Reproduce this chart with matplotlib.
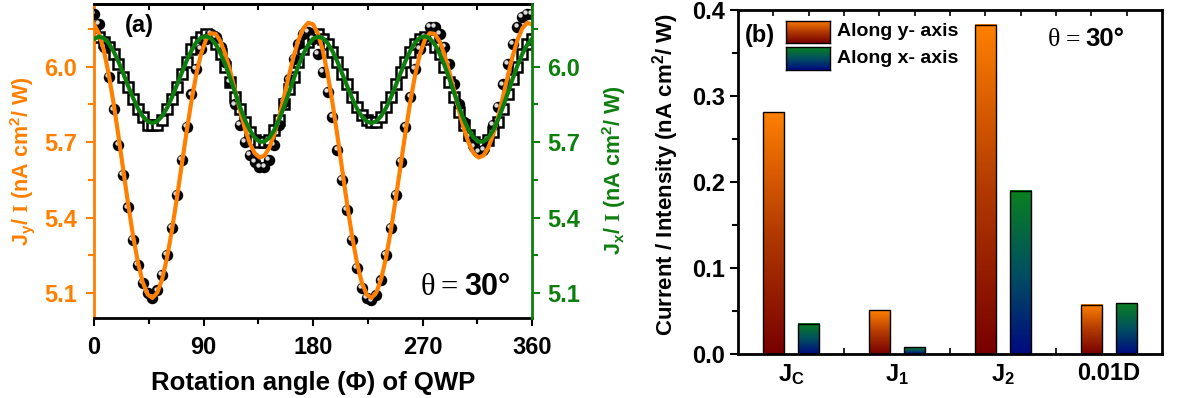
import numpy as np
import matplotlib
matplotlib.use('Agg')
import matplotlib.pyplot as plt
from matplotlib.transforms import offset_copy
from matplotlib.colors import LinearSegmentedColormap

plt.rcParams['font.family'] = ['Liberation Sans', 'DejaVu Sans']
plt.rcParams['font.weight'] = 'bold'
plt.rcParams['axes.labelweight'] = 'bold'
plt.rcParams['mathtext.fontset'] = 'custom'
plt.rcParams['mathtext.rm'] = 'Liberation Sans:bold'
plt.rcParams['mathtext.it'] = 'Liberation Sans:bold'
plt.rcParams['mathtext.bf'] = 'Liberation Sans:bold'
plt.rcParams['mathtext.cal'] = 'Liberation Serif'

# ---- panel (a) data: rotation angle of QWP (deg) ----
phi = np.arange(0, 361, 4)

jy_data = [6.21, 6.17, 6.08, 5.96, 5.83, 5.69, 5.57, 5.44, 5.31, 5.21, 5.14, 5.10, 5.08, 5.11, 5.17, 5.25,
           5.36, 5.49, 5.63, 5.76, 5.89, 5.99, 6.07, 6.11, 6.13, 6.12, 6.08, 6.02, 5.94, 5.85, 5.77, 5.70,
           5.65, 5.62, 5.60, 5.60, 5.63, 5.69, 5.77, 5.86, 5.95, 6.03, 6.09, 6.13, 6.14, 6.11, 6.05, 5.98,
           5.90, 5.80, 5.67, 5.55, 5.43, 5.31, 5.20, 5.12, 5.08, 5.07, 5.09, 5.15, 5.25, 5.36, 5.49, 5.62,
           5.76, 5.88, 5.99, 6.07, 6.12, 6.16, 6.16, 6.13, 6.08, 6.01, 5.93, 5.85, 5.78, 5.72, 5.68, 5.66,
           5.67, 5.71, 5.77, 5.84, 5.93, 6.01, 6.09, 6.16, 6.20, 6.21, 6.21]

jx_data = [6.13, 6.12, 6.10, 6.08, 6.05, 6.01, 5.96, 5.92, 5.87, 5.83, 5.80, 5.77, 5.77, 5.77, 5.79, 5.83,
           5.87, 5.92, 5.97, 6.02, 6.07, 6.10, 6.12, 6.13, 6.12, 6.09, 6.05, 6.00, 5.94, 5.88, 5.83, 5.78,
           5.74, 5.71, 5.70, 5.70, 5.71, 5.75, 5.79, 5.85, 5.91, 5.96, 6.02, 6.07, 6.10, 6.12, 6.13, 6.11,
           6.09, 6.06, 6.02, 5.97, 5.93, 5.88, 5.84, 5.81, 5.79, 5.78, 5.78, 5.80, 5.84, 5.88, 5.93, 5.98,
           6.02, 6.06, 6.09, 6.11, 6.12, 6.11, 6.08, 6.05, 6.00, 5.94, 5.88, 5.82, 5.77, 5.73, 5.70, 5.69,
           5.69, 5.71, 5.74, 5.78, 5.83, 5.89, 5.95, 6.00, 6.05, 6.09, 6.11]

jy_fit = [6.169, 6.132, 6.066, 5.972, 5.857, 5.727, 5.590, 5.454, 5.329, 5.223, 5.143, 5.094, 5.080,
          5.101, 5.155, 5.240, 5.349, 5.474, 5.607, 5.739, 5.862, 5.969, 6.052, 6.108, 6.134, 6.131,
          6.101, 6.049, 5.981, 5.904, 5.826, 5.754, 5.696, 5.656, 5.639, 5.646, 5.677, 5.729, 5.798,
          5.878, 5.961, 6.040, 6.106, 6.153, 6.175,
          6.169, 6.132, 6.066, 5.972, 5.857, 5.727, 5.590, 5.454, 5.329, 5.223, 5.143, 5.094, 5.080,
          5.101, 5.155, 5.240, 5.349, 5.474, 5.607, 5.739, 5.862, 5.969, 6.052, 6.108, 6.134, 6.131,
          6.101, 6.049, 5.981, 5.904, 5.826, 5.754, 5.696, 5.656, 5.639, 5.646, 5.677, 5.729, 5.798,
          5.878, 5.961, 6.040, 6.106, 6.153, 6.175, 6.169]

jx_fit = [6.111, 6.120, 6.114, 6.094, 6.062, 6.021, 5.973, 5.924, 5.877, 5.835, 5.803, 5.783, 5.776,
          5.783, 5.804, 5.836, 5.878, 5.926, 5.975, 6.023, 6.064, 6.097, 6.116, 6.122, 6.113, 6.090,
          6.053, 6.007, 5.953, 5.896, 5.840, 5.789, 5.748, 5.718, 5.702, 5.702, 5.717, 5.747, 5.788,
          5.839, 5.894, 5.951, 6.004, 6.051, 6.087,
          6.111, 6.120, 6.114, 6.094, 6.062, 6.021, 5.973, 5.924, 5.877, 5.835, 5.803, 5.783, 5.776,
          5.783, 5.804, 5.836, 5.878, 5.926, 5.975, 6.023, 6.064, 6.097, 6.116, 6.122, 6.113, 6.090,
          6.053, 6.007, 5.953, 5.896, 5.840, 5.789, 5.748, 5.718, 5.702, 5.702, 5.717, 5.747, 5.788,
          5.839, 5.894, 5.951, 6.004, 6.051, 6.087, 6.111]

x_ticks_a = [0, 90, 180, 270, 360]
y_ticks_a = [5.1, 5.4, 5.7, 6.0]

# ---- panel (b) data ----
categories = ['J$_C$', 'J$_1$', 'J$_2$', '0.01D']
along_y = [0.281, 0.051, 0.383, 0.057]
along_x = [0.035, 0.008, 0.190, 0.059]
y_ticks_b = [0.0, 0.1, 0.2, 0.3, 0.4]

ORANGE = '#FF8000'
GREEN = '#0E7F0E'
cmap_y = LinearSegmentedColormap.from_list('ygrad', ['#780000', '#B23A00', '#FF8000'])
cmap_x = LinearSegmentedColormap.from_list('xgrad', ['#000A80', '#005060', '#0A8020'])
TICK_FS = 17


def bold_ticks(a):
    for lbl in a.get_xticklabels() + a.get_yticklabels():
        lbl.set_fontweight('bold')


def theta_label(ax, x, y, size):
    t1 = ax.text(x, y, '\u03b8', transform=ax.transAxes, family='Liberation Serif',
                 fontweight='normal', fontsize=size, va='bottom')
    t2 = ax.annotate('=', xy=(1, 0), xycoords=t1, xytext=(size * 0.2, 0),
                     textcoords='offset points', family='Liberation Serif',
                     fontweight='normal', fontsize=size, va='bottom')
    ax.annotate('30\u00b0', xy=(1, 0), xycoords=t2, xytext=(size * 0.2, 0),
                textcoords='offset points', fontweight='bold', fontsize=size, va='bottom')


fig = plt.figure(figsize=(11.83, 3.98), dpi=100)

# ================= panel (a) =================
ax = fig.add_axes([0.0795, 0.201, 0.3702, 0.789])
ax.plot(phi, jx_data, 's', mfc='white', mec='black', ms=6.8, mew=1.8, zorder=2)
ax.scatter(phi, jy_data, s=68, c='black', zorder=3, linewidths=0)
hl = offset_copy(ax.transData, fig=fig, x=-1.3, y=1.3, units='points')
ax.scatter(phi, jy_data, s=10, c='#dcdcdc', zorder=3.1, linewidths=0, transform=hl)
ax.plot(phi, jy_fit, color=ORANGE, lw=3, zorder=4)
ax.plot(phi, jx_fit, color=GREEN, lw=3, zorder=5)

ax.set_xlim(0, 360)
ax.set_ylim(5.0, 6.25)
ax.set_xticks(x_ticks_a)
ax.set_xticks([45, 135, 225, 315], minor=True)
ax.set_yticks(y_ticks_a)
ax.set_yticks([5.25, 5.55, 5.85, 6.15], minor=True)
ax.tick_params(axis='x', which='major', direction='out', length=6, width=1.5,
               labelsize=TICK_FS, pad=7)
ax.tick_params(axis='x', which='minor', direction='out', length=4, width=1.5)
ax.tick_params(axis='y', which='both', direction='out', colors=ORANGE, width=1.5,
               labelsize=TICK_FS, labelcolor=ORANGE, pad=6)
ax.tick_params(axis='y', which='major', length=6)
ax.tick_params(axis='y', which='minor', length=4)
bold_ticks(ax)
for s in ['top', 'bottom']:
    ax.spines[s].set_linewidth(2)
ax.spines['left'].set_color(ORANGE)
ax.spines['left'].set_linewidth(2)
ax.spines['right'].set_visible(False)

top_a = ax.secondary_xaxis('top')
top_a.set_xticks([0, 45, 90, 135, 180, 225, 270, 315, 360])
top_a.tick_params(direction='in', length=4, width=1.5, labeltop=False)
top_a.spines['top'].set_linewidth(2)

ax2 = ax.twinx()
ax2.set_ylim(5.0, 6.25)
ax2.set_yticks(y_ticks_a)
ax2.set_yticks([5.25, 5.55, 5.85, 6.15], minor=True)
ax2.tick_params(axis='y', which='both', direction='out', colors=GREEN, width=1.5,
                labelsize=TICK_FS, labelcolor=GREEN, pad=5)
ax2.tick_params(axis='y', which='major', length=6)
ax2.tick_params(axis='y', which='minor', length=4)
bold_ticks(ax2)
for s in ['left', 'top', 'bottom']:
    ax2.spines[s].set_visible(False)
ax2.spines['right'].set_color(GREEN)
ax2.spines['right'].set_linewidth(2)

ax.set_xlabel('Rotation angle (\u03a6) of QWP', fontsize=18.5, fontweight='bold')
ax.xaxis.set_label_coords(0.5, -0.168)
ax.set_ylabel('J$_y$/ $\\mathcal{I}$ (nA cm$^2$/ W)', fontsize=15.5, fontweight='bold', color=ORANGE)
ax.yaxis.set_label_coords(-0.13, 0.5)
ax2.set_ylabel('J$_x$/ $\\mathcal{I}$ (nA cm$^2$/ W)', fontsize=15.5, fontweight='bold', color=GREEN)
ax2.yaxis.set_label_coords(1.155, 0.47)

ax.text(0.071, 0.93, '(a)', transform=ax.transAxes, fontsize=17, fontweight='bold',
        va='center', zorder=6)
theta_label(ax, 0.745, 0.05, 22)

# ================= panel (b) =================
axb = fig.add_axes([0.6238, 0.1106, 0.3585, 0.8643])
x = np.arange(len(categories))
grad = np.linspace(0, 1, 256).reshape(-1, 1)
bars_y = axb.bar(x - 0.168, along_y, 0.2, facecolor='none', edgecolor='black', lw=1, zorder=3)
bars_x = axb.bar(x + 0.168, along_x, 0.2, facecolor='none', edgecolor='black', lw=1, zorder=3)
for bars, cm in [(bars_y, cmap_y), (bars_x, cmap_x)]:
    for r in bars:
        x0, w, h = r.get_x(), r.get_width(), r.get_height()
        axb.imshow(grad, extent=[x0, x0 + w, 0, h], origin='lower', aspect='auto',
                   cmap=cm, zorder=2)

axb.set_xlim(-0.5, 3.5)
axb.set_ylim(0, 0.4)
axb.set_xticks(x)
axb.set_xticklabels(categories)
axb.tick_params(axis='x', which='major', length=0, pad=6, labelsize=TICK_FS)
minor_b = [-0.168, 0.168, 0.5, 0.832, 1.168, 1.5, 1.832, 2.168, 2.5, 2.832, 3.168]
axb.set_xticks(minor_b, minor=True)
axb.tick_params(axis='x', which='minor', direction='in', length=4, width=1.2)
axb.set_yticks(y_ticks_b)
axb.set_yticks([0.05, 0.15, 0.25, 0.35], minor=True)
axb.tick_params(axis='y', which='major', direction='out', length=6, width=1.5,
                labelsize=TICK_FS, pad=3)
axb.tick_params(axis='y', which='minor', direction='out', length=4, width=1.5)
bold_ticks(axb)
for s in axb.spines.values():
    s.set_linewidth(2)
top_b = axb.secondary_xaxis('top')
top_b.set_xticks(minor_b)
top_b.tick_params(direction='in', length=4, width=1.2, labeltop=False)

axb.set_ylabel('Current / Intensity (nA cm$^2$/ W)', fontsize=16, fontweight='bold')
axb.yaxis.set_label_coords(-0.135, 0.523)
axb.text(0.017, 0.927, '(b)', transform=axb.transAxes, fontsize=17, fontweight='bold',
         va='center')
theta_label(axb, 0.731, 0.88, 18.5)

# gradient legend drawn by hand
for (bottom, cm, label) in [(0.8912, cmap_y, 'Along y- axis'), (0.8241, cmap_x, 'Along x- axis')]:
    lax = fig.add_axes([0.664, bottom, 0.0376, 0.0568])
    lax.imshow(grad, origin='lower', aspect='auto', cmap=cm, extent=[0, 1, 0, 1])
    lax.set_xticks([])
    lax.set_yticks([])
    for s in lax.spines.values():
        s.set_linewidth(1)
    fig.text(0.7075, bottom + 0.0284, label, fontsize=14, fontweight='bold', va='center')

fig.savefig('out.png', dpi=100)
